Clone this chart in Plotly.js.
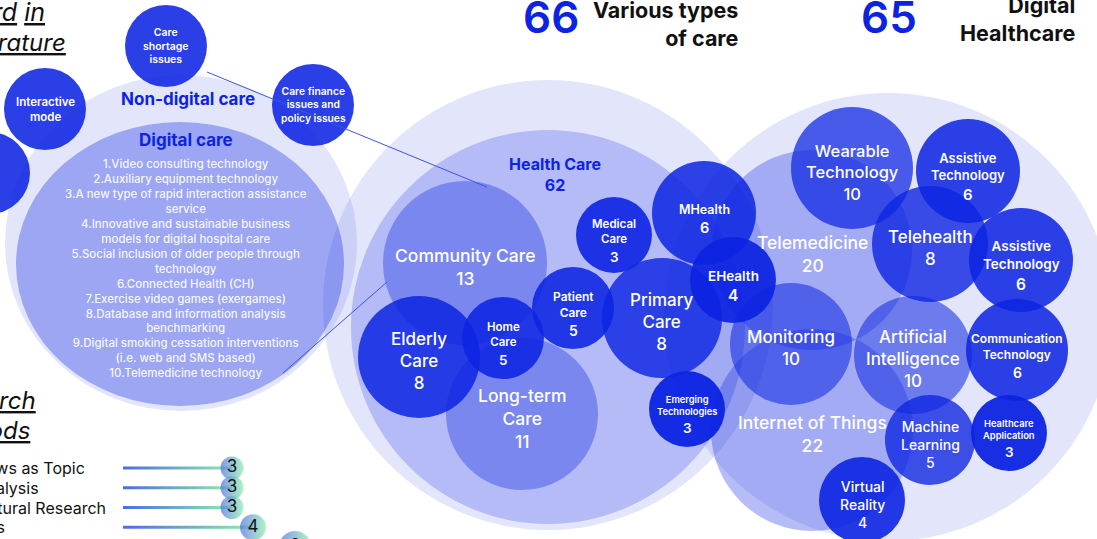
<!DOCTYPE html>
<html>
<head>
<meta charset="utf-8">
<script src="https://cdn.plot.ly/plotly-3.0.1.min.js"></script>
<style>
html, body { margin: 0; padding: 0; background: #fff; }
#chart { width: 1097px; height: 539px; }
</style>
</head>
<body>
<div id="chart"></div>
<script>
// header totals
const totalCareTypes = 66;
const totalDigital = 65;
const healthCareTotal = 62;

// keywords: various types of care
const careTopics = ['Community Care', 'Elderly<br>Care', 'Long-term<br>Care', 'Home<br>Care', 'Patient<br>Care',
    'Medical<br>Care', 'Primary<br>Care', 'MHealth', 'EHealth', 'Emerging<br>Technologies'];
const careCounts = [13, 8, 11, 5, 5, 3, 8, 6, 4, 3];

// keywords: digital healthcare
const digitalTopics = ['Telemedicine', 'Internet of Things', 'Monitoring', 'Wearable<br>Technology', 'Assistive<br>Technology',
    'Telehealth', 'Assistive<br>Technology', 'Artificial<br>Intelligence', 'Communication<br>Technology',
    'Machine<br>Learning', 'Healthcare<br>Application', 'Virtual<br>Reality'];
const digitalCounts = [20, 22, 10, 10, 6, 8, 6, 10, 6, 5, 3, 4];

// non-digital care themes
const nonDigitalTopics = ['Care<br>shortage<br>issues', 'Interactive<br>mode', 'Care finance<br>issues and<br>policy issues', 'Care<br>channel'];

// digital care themes
const digitalCareItems = [
    '1.Video consulting technology',
    '2.Auxiliary equipment technology',
    '3.A new type of rapid interaction assistance',
    'service',
    '4.Innovative and sustainable business',
    'models for digital hospital care',
    '5.Social inclusion of older people through',
    'technology',
    '6.Connected Health (CH)',
    '7.Exercise video games (exergames)',
    '8.Database and information analysis',
    'benchmarking',
    '9.Digital smoking cessation interventions',
    '(i.e. web and SMS based)',
    '10.Telemedicine technology'
];

// research methods
const methods = ['Interviews as Topic', 'Cluster Analysis', 'Cultural Research', 'Focus Groups', 'Qualitative Research'];
const methodCounts = [3, 3, 3, 4, 6];

// ---- packed layout (pixel space): [cx, cy, rx, ry] ----
const groupCircles = {
    nonDigitalOuter: [181, 243, 176, 168],
    digitalCare: [180, 264, 164, 142],
    healthOuter: [548, 305, 225, 225],
    healthInner: [548, 327, 197, 197],
    digitalOuter: [888, 317, 224, 224]
};
const careXYR = [[465, 263, 82], [419, 357, 61], [522, 414, 76], [503, 338, 41], [573, 308, 41],
    [614, 235, 38], [662, 318, 60], [704, 213, 52], [733, 280, 43], [687, 409, 38]];
const careAlpha = [0.34, 0.85, 0.34, 0.88, 0.88, 0.9, 0.82, 0.85, 0.93, 0.96];
const careFont = [17.5, 17, 17.5, 11.5, 12, 11.5, 17, 12.5, 13.5, 9.3];

const digitalXYR = [[812, 250, 100], [812, 430, 101], [791, 344, 61], [852, 168, 61], [968, 171, 52],
    [930, 244, 58], [1021, 260, 52], [913, 355, 59], [1017, 350, 51], [930, 440, 45], [1009, 433, 38], [862, 500, 43]];
const digitalAlpha = [0.3, 0.3, 0.55, 0.72, 0.86, 0.8, 0.86, 0.55, 0.86, 0.78, 0.95, 0.9];
const digitalFont = [17.5, 17.5, 17, 16.5, 13, 17, 13.5, 17, 12, 14, 9.4, 14];

const nonDigitalXYR = [[166, 46, 41], [45, 109, 41], [313, 105, 41], [-11, 173, 41]];
const nonDigitalFont = [10.5, 11.5, 10.3, 11];

const BLUE = 'rgb(12, 36, 226)';
const blueA = a => `rgba(12, 36, 226, ${a})`;
const FONT = 'Inter, "Open Sans", sans-serif';

const shapes = [];
const annotations = [];

function ellipse(cx, cy, rx, ry, fill) {
    shapes.push({
        type: 'circle', xref: 'x', yref: 'y', layer: 'below',
        x0: cx - rx, x1: cx + rx, y0: cy - ry, y1: cy + ry,
        fillcolor: fill, line: { width: 0 }
    });
}
const circle = (c, fill) => ellipse(c[0], c[1], c[2], c[2], fill);
const group = (g, fill) => ellipse(g[0], g[1], g[2], g[3], fill);

function label(x, y, text, size, color, weight, extra) {
    annotations.push(Object.assign({
        x, y, xref: 'x', yref: 'y', text, showarrow: false,
        xanchor: 'center', yanchor: 'middle', align: 'center',
        font: { family: FONT, size, color, weight: weight || 600 }
    }, extra || {}));
}

// big bubbles: one block; small bubbles: label + larger count below it
function bubbleLabel(c, topic, count, size, alpha) {
    circle(c, blueA(alpha));
    if (size >= 14) {
        label(c[0], c[1] + 4, `${topic}<br>${count}`, size, '#ffffff', 500);
        return;
    }
    const lines = topic.split('<br>').length;
    const numSize = Math.max(size + 2, 13.5);
    const total = lines * 1.3 * size + 1.3 * numSize;
    const labelBottom = c[1] + 7 - total / 2 + lines * 1.3 * size;
    label(c[0], labelBottom, topic, size, '#ffffff', 600, { yanchor: 'bottom' });
    label(c[0], labelBottom + 0.62 * numSize, String(count), numSize, '#ffffff', 600);
}

// group backgrounds
group(groupCircles.nonDigitalOuter, 'rgba(60, 80, 230, 0.14)');
group(groupCircles.healthOuter, 'rgba(60, 80, 230, 0.14)');
group(groupCircles.digitalOuter, 'rgba(60, 80, 230, 0.14)');
group(groupCircles.digitalCare, blueA(0.33));
group(groupCircles.healthInner, blueA(0.22));

// connector lines
shapes.push({ type: 'line', xref: 'x', yref: 'y', x0: 207, y0: 72, x1: 487, y1: 187, line: { color: '#3a55e4', width: 1 } });
shapes.push({ type: 'line', xref: 'x', yref: 'y', x0: 283, y0: 373, x1: 387, y1: 282, line: { color: '#3a55e4', width: 1 } });

// keyword bubbles
careTopics.forEach((t, i) => bubbleLabel(careXYR[i], t, careCounts[i], careFont[i], careAlpha[i]));
digitalTopics.forEach((t, i) => bubbleLabel(digitalXYR[i], t, digitalCounts[i], digitalFont[i], digitalAlpha[i]));
nonDigitalTopics.forEach((t, i) => {
    const c = nonDigitalXYR[i];
    circle(c, blueA(0.88));
    label(c[0], c[1], t, nonDigitalFont[i], '#ffffff', 600);
});

// group titles
label(188, 99, 'Non-digital care', 17, BLUE, 700);
label(186, 140, 'Digital care', 17, BLUE, 700);
label(186, 268, digitalCareItems.join('<br>'), 11.5, 'rgba(255,255,255,0.92)', 500);
label(555, 174, `Health Care<br>${healthCareTotal}`, 16, BLUE, 700);

// header
label(551, 17, String(totalCareTypes), 44, BLUE, 600);
label(740, 24, 'Various types<br>of care', 21.5, '#111111', 700, { xanchor: 'right', align: 'right' });
label(889, 17, String(totalDigital), 44, BLUE, 600);
label(1077, 19, 'Digital<br>Healthcare', 21.5, '#111111', 700, { xanchor: 'right', align: 'right' });

// section headings (cut at left edge)
label(47, 12, '<i><u>Keyword</u> <u>in</u></i>', 25, '#111111', 400, { xanchor: 'right' });
label(68, 42, '<i><u>Literature</u></i>', 24, '#111111', 400, { xanchor: 'right' });
label(38, 400, '<i><u>Research</u></i>', 24, '#111111', 400, { xanchor: 'right' });
label(32, 430, '<i><u>Methods</u></i>', 24, '#111111', 400, { xanchor: 'right' });

// research method labels
const methodLabelEnd = [87, 41, 108, 7, 30];
methods.forEach((m, i) => {
    annotations.push({
        x: methodLabelEnd[i], y: i, xref: 'x', yref: 'y2', text: m, showarrow: false,
        xanchor: 'right', yanchor: 'middle',
        font: { family: FONT, size: 16, color: '#111111', weight: 400 }
    });
});

// lollipop stems with gradient fill
const stemStart = -2.19;
const stemHalf = 0.075;
const traces = methods.map((m, i) => ({
    x: [stemStart, methodCounts[i], methodCounts[i], stemStart, stemStart],
    y: [i - stemHalf, i - stemHalf, i + stemHalf, i + stemHalf, i - stemHalf],
    xaxis: 'x2', yaxis: 'y2',
    type: 'scatter', mode: 'lines', fill: 'toself',
    fillgradient: { type: 'horizontal', colorscale: [[0, '#4d6be6'], [1, '#8af0a4']] },
    line: { width: 0 }, hoverinfo: 'skip', showlegend: false
}));
traces.push({
    x: methodCounts, y: methods.map((m, i) => i),
    xaxis: 'x2', yaxis: 'y2',
    type: 'scatter', mode: 'markers+text',
    text: methodCounts.map(String), textposition: 'middle center',
    textfont: { family: FONT, size: 17, color: '#111111' },
    marker: {
        size: methodCounts.map(v => 14 + v * 3),
        color: '#4d6be6',
        gradient: { type: 'horizontal', color: '#8af0a4' },
        line: { width: 0 }
    },
    hoverinfo: 'skip', showlegend: false
});

const layout = {
    width: 1097, height: 539,
    margin: { t: 0, r: 0, b: 0, l: 0 },
    paper_bgcolor: '#ffffff', plot_bgcolor: 'rgba(0,0,0,0)',
    xaxis: { range: [0, 1097], visible: false, fixedrange: true },
    yaxis: { range: [539, 0], visible: false, fixedrange: true },
    xaxis2: { domain: [123 / 1097, 320 / 1097], range: [stemStart, stemStart + 197 / 21], anchor: 'y2', visible: false, fixedrange: true },
    yaxis2: { domain: [0, 99 / 539], range: [(539 - 468) / 19.75, (440 - 468) / 19.75], anchor: 'x2', visible: false, fixedrange: true },
    shapes, annotations, showlegend: false
};

Plotly.newPlot('chart', traces, layout, { displayModeBar: false, staticPlot: true });
</script>
</body>
</html>
